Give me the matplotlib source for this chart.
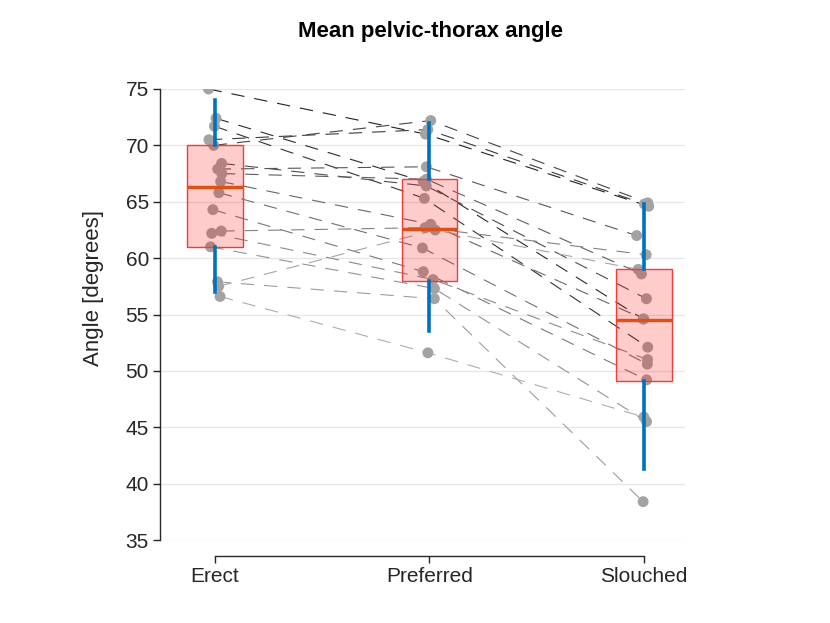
import numpy as np
from matplotlib import pyplot as plt

## Plt font
plt.rcParams.update({
    "font.family": ["Liberation Sans", "DejaVu Sans"],
    "font.size": 15,
    "text.color": "#262626",
    "axes.edgecolor": "#262626",
    "xtick.color": "#262626",
    "ytick.color": "#262626",
})

conditions = ["Erect", "Preferred", "Slouched"]

# per-subject mean angle [degrees], one list per condition (same subject order)
erect = [75.0, 72.4, 71.7, 70.5, 70.0, 68.4, 67.9, 67.5, 66.8, 65.8, 64.3, 62.4, 62.2, 61.0, 57.9, 57.5, 56.6]
preferred = [71.0, 66.8, 65.3, 71.4, 72.2, 66.4, 68.1, 67.0, 63.0, 60.9, 58.8, 62.7, 58.1, 57.3, 56.4, 62.5, 51.6]
slouched = [64.6, 54.6, 52.1, 64.8, 64.9, 56.4, 62.0, 58.6, 54.6, 50.6, 49.2, 60.3, 51.0, 45.5, 38.4, 59.0, 45.9]

# box summaries as drawn: lower whisker, q1, median, q3, upper whisker
whis_lo = [57.0, 53.5, 41.3]
q1 = [61.0, 58.0, 49.1]
med = [66.3, 62.6, 54.5]
q3 = [70.0, 67.0, 59.0]
whis_hi = [74.0, 72.0, 64.8]

fig = plt.figure(figsize=(8.3, 6.23), dpi=100)
ax = fig.add_axes([160 / 830, 1 - 540 / 623, 525 / 830, 451 / 623])

data = np.array([erect, preferred, slouched]).T  # (subjects, conditions)
n = data.shape[0]
pos = np.arange(1, 4)

# small horizontal jitter so overlapping subjects stay visible
rng = np.random.default_rng(3)
jit = rng.uniform(-0.035, 0.035, size=data.shape)
xs = pos[None, :] + jit

# subject lines, darker for higher erect values
for i in range(n):
    shade = 0.13 + 0.55 * i / (n - 1)
    ax.plot(xs[i], data[i], color=str(shade), lw=0.8, ls=(0, (12, 9)), zorder=2)

ax.scatter(xs.ravel(), data.ravel(), s=62, color="#a3a3a3", edgecolors="none", zorder=3)

stats = [dict(med=med[k], q1=q1[k], q3=q3[k], whislo=whis_lo[k], whishi=whis_hi[k], label=conditions[k]) for k in range(3)]
ax.bxp(stats, positions=pos, widths=0.26, patch_artist=True, showfliers=False, showcaps=False,
       boxprops=dict(facecolor=(1, 0, 0, 0.2), edgecolor="#f03c3c", lw=1.0),
       medianprops=dict(color="#d95319", lw=2.5),
       whiskerprops=dict(color="#0072bd", lw=2.6), zorder=4)

ax.set_xlim(0.745, 3.19)
ax.set_ylim(35, 75)
ax.set_yticks(np.arange(35, 76, 5))
ax.set_xticks(pos)
ax.set_xticklabels(conditions)
ax.grid(axis="y", color="#e6e6e6", lw=0.9, zorder=0)
ax.set_axisbelow(True)

for s in ["top", "right"]:
    ax.spines[s].set_visible(False)
ax.spines["bottom"].set_position(("outward", 11.5))
ax.spines["bottom"].set_bounds(1, 3)
ax.spines["left"].set_bounds(35, 75)
ax.spines["left"].set_linewidth(1.0)
ax.spines["bottom"].set_linewidth(1.0)
ax.tick_params(direction="out", length=5, width=1.0, labelsize=15, pad=3)

fig.text(93 / 830, 1 - 288 / 623, "Angle [degrees]", rotation=90, ha="center", va="center", fontsize=16)
fig.text(430 / 830, 1 - 31 / 623, "Mean pelvic-thorax angle", ha="center", va="center", fontsize=16, fontweight="bold", color="black")

fig.savefig("out.png", dpi=100)
